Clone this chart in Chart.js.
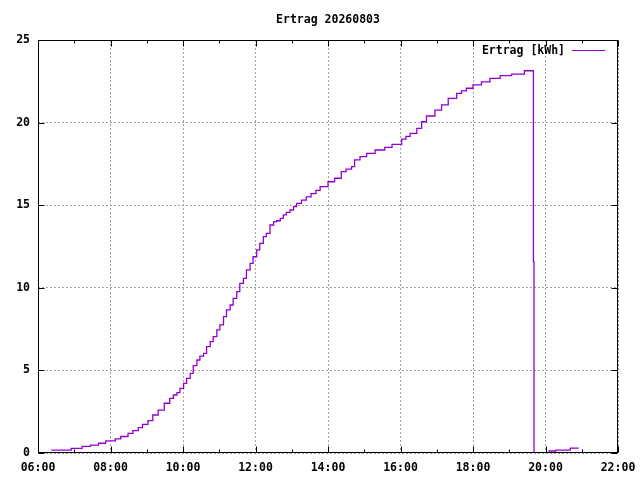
<!DOCTYPE html>
<html lang="de">
<head>
<meta charset="UTF-8">
<title>Ertrag 20260803</title>
<script src="https://cdn.jsdelivr.net/npm/chart.js"></script>
<style>
    html, body { margin: 0; padding: 0; background: #fff; }
    #wrap { width: 640px; height: 480px; }
</style>
</head>
<body>
<div id="wrap"><canvas id="ertragChart"></canvas></div>
<script>
    // Messwerte (Uhrzeit, Zaehlerstand in kWh)
    const zeiten = [
        '06:22', '06:55', '07:13', '07:27', '07:40', '07:52', '08:08', '08:17', '08:29', '08:37',
        '08:46', '08:53', '09:02', '09:10', '09:19', '09:29', '09:38', '09:44', '09:50', '09:55',
        '10:01', '10:06', '10:12', '10:17', '10:23', '10:28', '10:34', '10:39', '10:45', '10:50',
        '10:56', '11:01', '11:07', '11:12', '11:18', '11:23', '11:29', '11:34', '11:40', '11:45',
        '11:51', '11:56', '12:02', '12:07', '12:13', '12:18', '12:24', '12:30', '12:35', '12:41',
        '12:46', '12:51', '12:57', '13:03', '13:08', '13:16', '13:24', '13:32', '13:40', '13:47',
        '14:00', '14:11', '14:22', '14:30', '14:39', '14:44', '14:53', '15:04', '15:18', '15:34',
        '15:46', '16:02', '16:09', '16:16', '16:27', '16:35', '16:43', '16:57', '17:08', '17:19',
        '17:33', '17:41', '17:49', '18:00', '18:14', '18:28', '18:45', '19:04', '19:25', '19:40',
        '19:41', '20:06', '20:17', '20:41', '20:55'
    ];
    const ertrag = [
        0.18, 0.28, 0.40, 0.48, 0.59, 0.73, 0.85, 1.00, 1.19, 1.35,
        1.53, 1.73, 1.96, 2.30, 2.60, 3.01, 3.31, 3.51, 3.65, 3.91,
        4.22, 4.52, 4.82, 5.29, 5.63, 5.87, 6.03, 6.44, 6.74, 7.04,
        7.45, 7.75, 8.25, 8.66, 8.96, 9.36, 9.77, 10.27, 10.57, 11.08,
        11.48, 11.88, 12.29, 12.69, 13.10, 13.30, 13.80, 14.00, 14.06, 14.20,
        14.41, 14.57, 14.71, 14.91, 15.11, 15.31, 15.50, 15.70, 15.90, 16.12,
        16.42, 16.63, 17.03, 17.18, 17.33, 17.74, 17.94, 18.14, 18.34, 18.50,
        18.68, 19.00, 19.17, 19.35, 19.65, 20.05, 20.40, 20.76, 21.07, 21.47,
        21.77, 21.92, 22.08, 22.28, 22.47, 22.68, 22.84, 22.94, 23.14, 11.58,
        0.00, 0.12, 0.18, 0.30, 0.30
    ];
    const xTicks = ['06:00', '08:00', '10:00', '12:00', '14:00', '16:00', '18:00', '20:00', '22:00'];
    const xMinorTicks = ['07:00', '09:00', '11:00', '13:00', '15:00', '17:00', '19:00', '21:00'];
    const yTicks = [0, 5, 10, 15, 20, 25];

    const titel = 'Ertrag 20260803';
    const serie = 'Ertrag [kWh]';
    const farbe = '#9400d3';
    const schrift = 'DejaVu Sans Mono';

    function minuten(t) {
        const [h, m] = t.split(':').map(Number);
        return h * 60 + m;
    }
    function uhrzeit(v) {
        const h = Math.floor(v / 60), m = v % 60;
        return String(h).padStart(2, '0') + ':' + String(m).padStart(2, '0');
    }

    // Rahmen, Tickmarken nach innen und Legende wie bei gnuplot
    const gnuplotRahmen = {
        id: 'gnuplotRahmen',
        afterDatasetsDraw(chart) {
            const { ctx, chartArea: a, scales: { x, y } } = chart;
            const L = Math.round(a.left) + 0.5, R = Math.round(a.right) - 0.5;
            const T = Math.round(a.top) + 0.5, B = Math.round(a.bottom) - 0.5;
            ctx.save();
            ctx.strokeStyle = '#000';
            ctx.lineWidth = 1;
            ctx.beginPath();
            const tickX = (t, len) => {
                const px = Math.round(x.getPixelForValue(minuten(t))) + 0.5;
                ctx.moveTo(px, B); ctx.lineTo(px, B - len);
                ctx.moveTo(px, T); ctx.lineTo(px, T + len);
            };
            xTicks.forEach(t => tickX(t, 6));
            xMinorTicks.forEach(t => tickX(t, 3));
            yTicks.forEach(v => {
                const py = Math.round(y.getPixelForValue(v)) + 0.5;
                ctx.moveTo(L, py); ctx.lineTo(L + 6, py);
                ctx.moveTo(R, py); ctx.lineTo(R - 6, py);
            });
            ctx.stroke();
            ctx.strokeRect(L, T, R - L, B - T);

            // Legende
            ctx.font = 'bold 11.5px "' + schrift + '"';
            ctx.fillStyle = '#000';
            ctx.textAlign = 'right';
            ctx.textBaseline = 'middle';
            ctx.fillText(serie, a.right - 53, a.top + 11);
            ctx.strokeStyle = farbe;
            ctx.beginPath();
            ctx.moveTo(a.right - 46, a.top + 10.5);
            ctx.lineTo(a.right - 13, a.top + 10.5);
            ctx.stroke();
            ctx.restore();
        }
    };

    new Chart(document.getElementById('ertragChart'), {
        type: 'line',
        data: {
            datasets: [{
                label: serie,
                data: zeiten.map((t, i) => ({ x: minuten(t), y: ertrag[i] })),
                borderColor: farbe,
                borderWidth: 1.3,
                stepped: true,
                pointRadius: 0,
                fill: false
            }]
        },
        options: {
            responsive: true,
            maintainAspectRatio: false,
            animation: false,
            layout: { padding: { left: 0, right: 22, top: 0, bottom: 0 } },
            plugins: {
                legend: { display: false },
                tooltip: { enabled: false },
                title: {
                    display: true,
                    text: titel,
                    fullSize: false,
                    color: '#000',
                    font: { family: schrift, size: 11.5, weight: 'bold', lineHeight: '14px' },
                    padding: { top: 13, bottom: 13 }
                }
            },
            scales: {
                x: {
                    type: 'linear',
                    min: minuten(xTicks[0]),
                    max: minuten(xTicks[xTicks.length - 1]),
                    afterBuildTicks: s => { s.ticks = xTicks.map(t => ({ value: minuten(t) })); },
                    afterFit: s => { s.height = 27; s.paddingLeft = 0; s.paddingRight = 0; },
                    grid: { color: '#a0a0a0', lineWidth: 1, drawTicks: false },
                    border: { display: false, dash: [2, 2] },
                    ticks: {
                        color: '#000',
                        padding: 8,
                        maxRotation: 0,
                        font: { family: schrift, size: 11.5, weight: 'bold' },
                        callback: v => uhrzeit(v)
                    }
                },
                y: {
                    min: yTicks[0],
                    max: yTicks[yTicks.length - 1],
                    afterBuildTicks: s => { s.ticks = yTicks.map(v => ({ value: v })); },
                    afterFit: s => { s.width = 38; },
                    grid: { color: '#a0a0a0', lineWidth: 1, drawTicks: false },
                    border: { display: false, dash: [2, 2] },
                    ticks: {
                        color: '#000',
                        padding: 8,
                        font: { family: schrift, size: 11.5, weight: 'bold' }
                    }
                }
            }
        },
        plugins: [gnuplotRahmen]
    });
</script>
</body>
</html>
